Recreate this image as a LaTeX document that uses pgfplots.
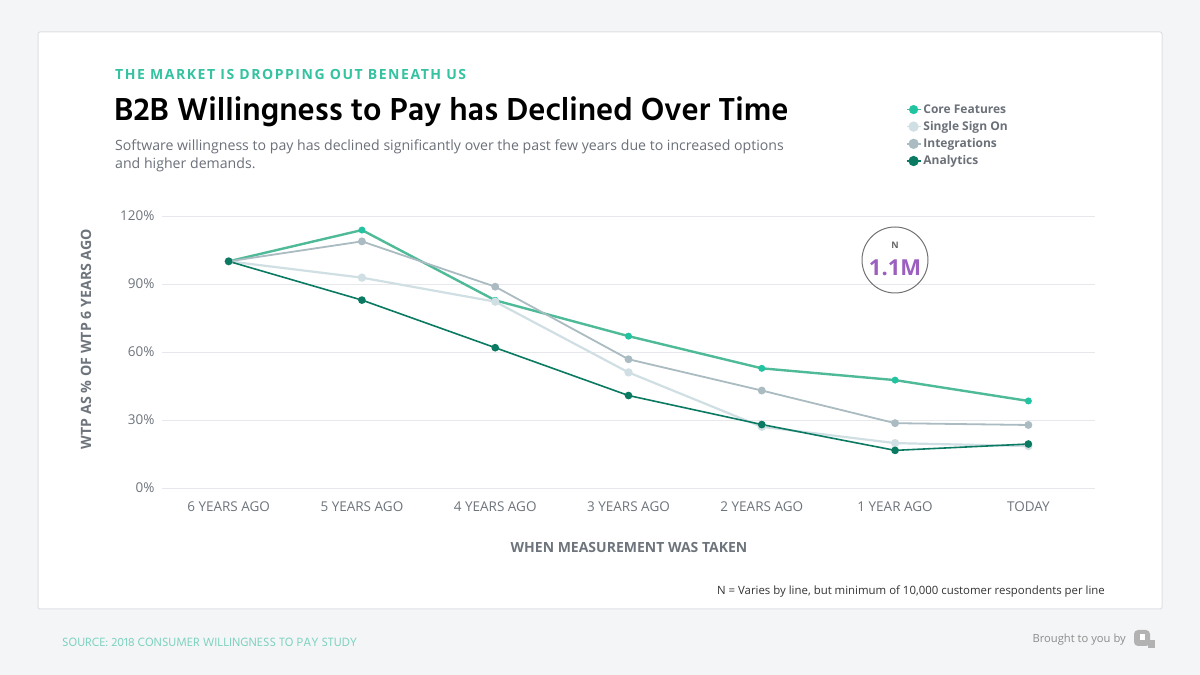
\documentclass[border=0pt]{standalone}
\usepackage{fontspec}
\setmainfont{Open Sans}
\newfontfamily\titlefont{Hind Madurai}
\usepackage{pgfplots}
\pgfplotsset{compat=1.18}
\definecolor{bgc}{HTML}{F4F5F7}
\definecolor{cardb}{HTML}{DDE0E4}
\definecolor{gridc}{HTML}{E6E8EB}
\definecolor{tickc}{HTML}{6E747C}
\definecolor{kick}{HTML}{34C2A0}
\definecolor{foot}{HTML}{7ED2BF}
\definecolor{coreL}{HTML}{4EBA98}
\definecolor{coreM}{HTML}{22C3A0}
\definecolor{ssoc}{HTML}{D0DFE3}
\definecolor{intc}{HTML}{AABBC1}
\definecolor{anac}{HTML}{0B7A62}
\definecolor{purp}{HTML}{9B5FC0}
\definecolor{subc}{HTML}{6B7079}
\begin{document}
\begin{tikzpicture}[x=1pt,y=1pt]
\fill[bgc] (0,0) rectangle (1200,675);
\filldraw[fill=white,draw=cardb,line width=1pt,rounded corners=2pt] (38,643) rectangle (1162,66);
\begin{axis}[
  at={(162pt,187pt)}, anchor=south west,
  scale only axis, width=933pt, height=272pt,
  xmin=-0.5, xmax=6.5, ymin=0, ymax=120,
  clip=false,
  axis line style={draw=none}, tick style={draw=none},
  ytick={0,30,60,90,120},
  yticklabel={\pgfmathprintnumber{\tick}\%},
  /pgf/number format/assume math mode=true,
  ymajorgrids, grid style={gridc, line width=0.9pt},
  xtick={0,1,2,3,4,5,6},
  xticklabels={6 YEARS AGO,5 YEARS AGO,4 YEARS AGO,3 YEARS AGO,2 YEARS AGO,1 YEAR AGO,TODAY},
  ticklabel style={font=\fontsize{13.5}{16}\selectfont, text=tickc},
  yticklabel style={xshift=-4pt},
  xticklabel style={yshift=-10pt},
  legend style={at={(0.797,1.418)}, anchor=north west, draw=none, fill=none,
     font=\fontsize{12}{14}\selectfont\bfseries, text=subc, row sep=2.6pt,
     inner sep=0pt},
  legend cell align=left,
  legend image code/.code={\draw[mark repeat=2,mark phase=2,#1,line width=1.6pt,mark size=4.3pt] plot coordinates {(0pt,0pt)(7pt,0pt)(14pt,0pt)};},
]
\addplot[coreL, line width=2.4pt, mark=*, mark size=3.2pt, mark options={fill=coreM, draw=coreM, line width=0.5pt}]
 coordinates {(0,100)(1,113.8)(2,82.8)(3,67)(4,52.8)(5,47.6)(6,38.4)};
\addlegendentry{Core Features}
\addplot[ssoc, line width=2.2pt, mark=*, mark size=3pt, mark options={fill=ssoc, draw=ssoc}]
 coordinates {(0,100)(1,92.8)(2,82.2)(3,51)(4,27)(5,19.8)(6,18.5)};
\addlegendentry{Single Sign On}
\addplot[intc, line width=1.8pt, mark=*, mark size=3pt, mark options={fill=intc, draw=intc}]
 coordinates {(0,100)(1,108.8)(2,88.8)(3,56.8)(4,43)(5,28.6)(6,27.8)};
\addlegendentry{Integrations}
\addplot[anac, line width=1.6pt, mark=*, mark size=3pt, mark options={fill=anac, draw=anac}]
 coordinates {(0,100)(1,82.9)(2,61.9)(3,40.8)(4,28)(5,16.6)(6,19.4)};
\addlegendentry{Analytics}
\end{axis}
% texts
\node[anchor=base west, inner sep=0pt, text=kick, font=\fontsize{14}{16}\selectfont\bfseries\addfontfeature{LetterSpace=11}] at (115,675-80) {THE MARKET IS DROPPING OUT BENEATH US};
\node[anchor=base west, inner sep=0pt, font=\titlefont\fontsize{32.6}{38}\selectfont\bfseries] at (114,675-121) {B2B Willingness to Pay has Declined Over Time};
\node[anchor=base west, inner sep=0pt, text=subc, font=\fontsize{14.13}{18}\selectfont] at (115,675-151) {Software willingness to pay has declined significantly over the past few years due to increased options};
\node[anchor=base west, inner sep=0pt, text=subc, font=\fontsize{14.13}{18}\selectfont] at (115,675-169) {and higher demands.};
\node[rotate=90, inner sep=0pt, text=tickc, font=\fontsize{14.2}{16}\selectfont\bfseries] at (86,675-339) {WTP AS \% OF WTP 6 YEARS AGO};
\node[inner sep=0pt, text=tickc, font=\fontsize{14}{16}\selectfont\bfseries] at (629,675-548) {WHEN MEASUREMENT WAS TAKEN};
\node[anchor=base east, inner sep=0pt, text=black!80, font=\fontsize{11.4}{14}\selectfont] at (1105,675-595) {N = Varies by line, but minimum of 10,000 customer respondents per line};
\node[anchor=west, inner sep=0pt, text=foot, font=\titlefont\fontsize{12.3}{14}\selectfont] at (62,675-642) {SOURCE: 2018 CONSUMER WILLINGNESS TO PAY STUDY};
\node[anchor=east, inner sep=0pt, text=black!45, font=\fontsize{11.2}{14}\selectfont] at (1126,675-640) {Brought to you by};
% logo
\fill[black!30, rounded corners=4pt] (1134,675-630) rectangle (1150,675-646);
\fill[black!30] (1148,675-640) rectangle (1155,675-648);
\fill[white] (1140,675-634) rectangle (1145,675-640);
% N circle
\draw[black!55, line width=1pt] (895,675-260) circle (33);
\node[inner sep=0pt, text=black!60, font=\fontsize{9}{10}\selectfont\bfseries] at (895,675-245) {N};
\node[inner sep=0pt, text=purp, font=\fontsize{22}{24}\selectfont\bfseries] at (895,675-268) {1.1M};
\end{tikzpicture}
\end{document}
